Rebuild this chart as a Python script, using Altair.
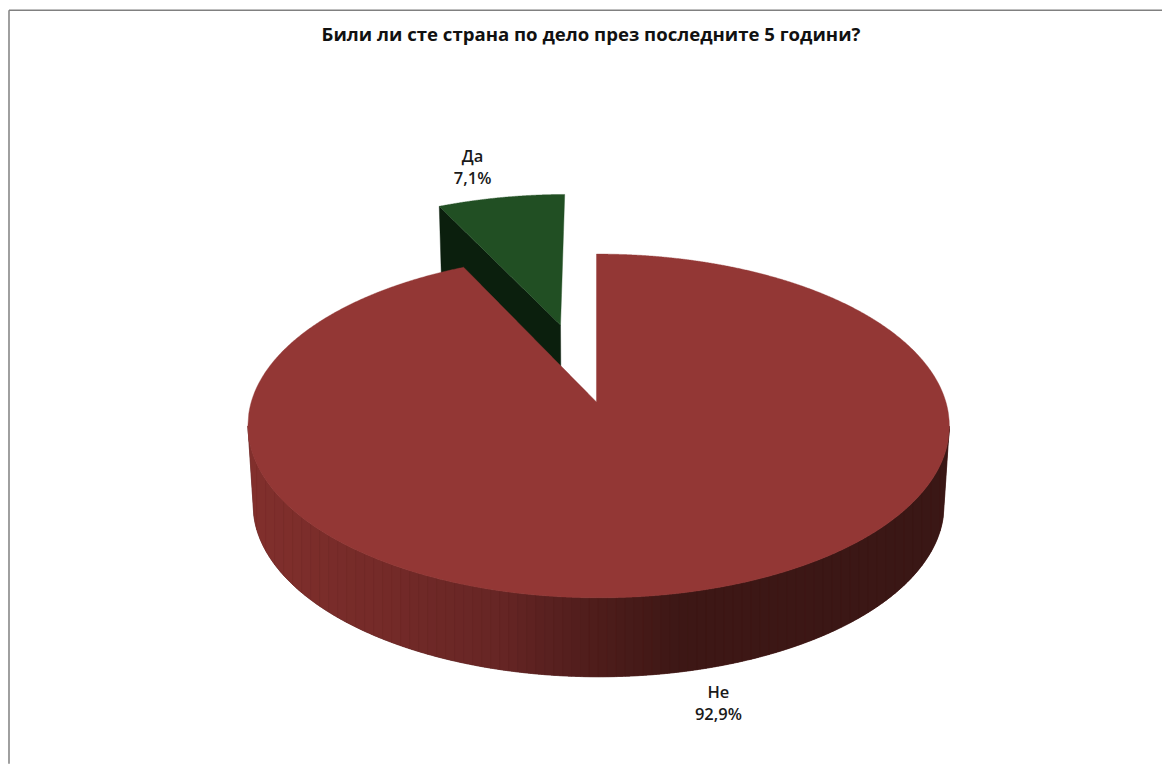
import numpy as np
import pandas as pd
import altair as alt

TITLE = "Били ли сте страна по дело през последните 5 години?"
CATEGORIES = ["Не", "Да"]
VALUES = [92.9, 7.1]
EXPLODE = [0.0, 0.5]
FACE_COLORS = ["#933735", "#214F23"]
GREEN_WALL = "#0B1F0D"
# wall shading from left to right along the front of the pie
SHADE_X = [248, 380, 500, 540, 600, 680, 950]
SHADE_RGB = [(130, 48, 45), (117, 43, 41), (103, 38, 37), (92, 34, 33), (78, 29, 27), (62, 24, 22), (58, 23, 21)]

CX, CY, A, B, K, M = 597.0, 402.0, 347.6, 168.7, 0.1395, -0.006
DEPTH, BOTTOM_SCALE = 79.0, 0.985
W, H = 1155, 756


def project(u, v, dy=0.0, sc=1.0):
    w = 1 + K * v + M * u
    return CX + A * sc * u / w, CY + dy - B * v / w


def envelope(px, py):
    """Turn a closed outline into x / lower / upper rows for an area mark."""
    px, py = np.asarray(px), np.asarray(py)
    ax, ay, bx, by = px, py, np.roll(px, -1), np.roll(py, -1)
    xs = np.arange(np.ceil(px.min()), np.floor(px.max()) + 1)
    sharp = px[np.abs(px - bx) < 1e-6]
    xs = np.unique(np.concatenate([xs, [px.min(), px.max()], sharp - 0.01, sharp + 0.01]))
    xs = xs[(xs >= px.min()) & (xs <= px.max())]
    rows = []
    for x in xs:
        lo, hi = np.minimum(ax, bx), np.maximum(ax, bx)
        hit = (lo <= x) & (x <= hi) & (hi > lo)
        if not hit.any():
            continue
        t = (x - ax[hit]) / (bx[hit] - ax[hit])
        ys = ay[hit] + t * (by[hit] - ay[hit])
        rows.append((x, ys.min(), ys.max()))
    return pd.DataFrame(rows, columns=["x", "y", "y2"])


def sector(start, end, explode):
    th = np.radians(np.linspace(start, end, 720))
    mid = np.radians((start + end) / 2)
    ou, ov = explode * np.sin(mid), explode * np.cos(mid)
    u = np.concatenate([[ou], ou + np.sin(th)])
    v = np.concatenate([[ov], ov + np.cos(th)])
    return u, v


shares = np.array(VALUES) / sum(VALUES) * 360
no_end = shares[0]

# faces
u_no, v_no = sector(0, no_end, EXPLODE[0])
no_face = envelope(*project(u_no, v_no))
u_yes, v_yes = sector(no_end, 360, EXPLODE[1])
yes_face = envelope(*project(u_yes, v_yes))

# cut wall of the exploded slice
corner_u = np.array([u_yes[1], u_yes[0]])
corner_v = np.array([v_yes[1], v_yes[0]])
tx, ty = project(corner_u, corner_v)
bx_, by_ = project(corner_u[::-1], corner_v[::-1], DEPTH, BOTTOM_SCALE)
yes_wall = envelope(np.concatenate([tx, bx_]), np.concatenate([ty, by_]))

# outer wall of the large slice
th = np.radians(np.linspace(0, 360, 1440))
top_x, top_y = project(np.sin(th), np.cos(th))
bot_x, bot_y = project(np.sin(th), np.cos(th), DEPTH, BOTTOM_SCALE)
i_r, i_l = top_x.argmax(), top_x.argmin()
j_r, j_l = bot_x.argmax(), bot_x.argmin()
outline_x = np.concatenate([top_x[i_r:i_l + 1], bot_x[j_r:j_l + 1][::-1]])
outline_y = np.concatenate([top_y[i_r:i_l + 1], bot_y[j_r:j_l + 1][::-1]])
wall = envelope(outline_x, outline_y)

STRIP = 9
pieces = []
x0 = int(np.floor(wall.x.min()))
k = 0
while x0 < wall.x.max():
    part = wall[(wall.x >= x0) & (wall.x <= x0 + STRIP)].copy()
    mid = x0 + STRIP / 2
    rgb = [int(np.interp(mid, SHADE_X, [c[i] for c in SHADE_RGB])) for i in range(3)]
    part["shade"] = "#%02x%02x%02x" % tuple(rgb)
    part["strip"] = k
    pieces.append(part)
    x0 += STRIP
    k += 1
wall_strips = pd.concat(pieces)

labels = pd.DataFrame({
    "x": [719, 473],
    "y": [693.5, 156.5],
    "text": [f"{c}\n{str(v).replace('.', ',')}%" for c, v in zip(CATEGORIES, VALUES)],
})

xs = alt.Scale(domain=[8, 8 + W], nice=False, zero=False)
ys = alt.Scale(domain=[8 + H, 8], nice=False, zero=False)
X = alt.X("x:Q", scale=xs, axis=None)
Y = alt.Y("y:Q", scale=ys, axis=None)


def area(df, color):
    return alt.Chart(df).mark_area(color=color, stroke=color, strokeWidth=0.4).encode(x=X, y=Y, y2="y2:Q")


wall_layer = alt.Chart(wall_strips).mark_area(strokeWidth=0.5).encode(
    x=X, y=Y, y2="y2:Q",
    fill=alt.Fill("shade:N", scale=None),
    stroke=alt.Stroke("shade:N", scale=None),
    detail="strip:N",
)

text_layer = alt.Chart(labels).mark_text(
    font="Open Sans", fontSize=16.5, fontWeight=600, color="#1a1a1a",
    lineBreak="\n", lineHeight=22, align="center", baseline="middle",
).encode(x=X, y=Y, text="text:N")

title_layer = alt.Chart(pd.DataFrame({"x": [591.5], "y": [35], "t": [TITLE]})).mark_text(
    font="Open Sans", fontSize=18.6, fontWeight="bold", color="#111111",
    align="center", baseline="middle",
).encode(x=X, y=Y, text="t:N")

frame_top = alt.Chart(pd.DataFrame({"a": [0]})).mark_rule(color="#808080", strokeWidth=1.5).encode(
    x=alt.value(1), x2=alt.value(W), y=alt.value(2))
frame_left = alt.Chart(pd.DataFrame({"a": [0]})).mark_rule(color="#808080", strokeWidth=1.5).encode(
    x=alt.value(1), y=alt.value(2), y2=alt.value(H))

chart = alt.layer(
    frame_top, frame_left,
    area(yes_wall, GREEN_WALL),
    area(yes_face, FACE_COLORS[1]),
    area(wall, "#4a1c1a"),
    wall_layer,
    area(no_face, FACE_COLORS[0]),
    text_layer,
    title_layer,
).properties(width=W, height=H, padding=0, background="white").configure_view(stroke=None)

chart.save("out.html", embed_options={"renderer": "svg", "actions": False})
